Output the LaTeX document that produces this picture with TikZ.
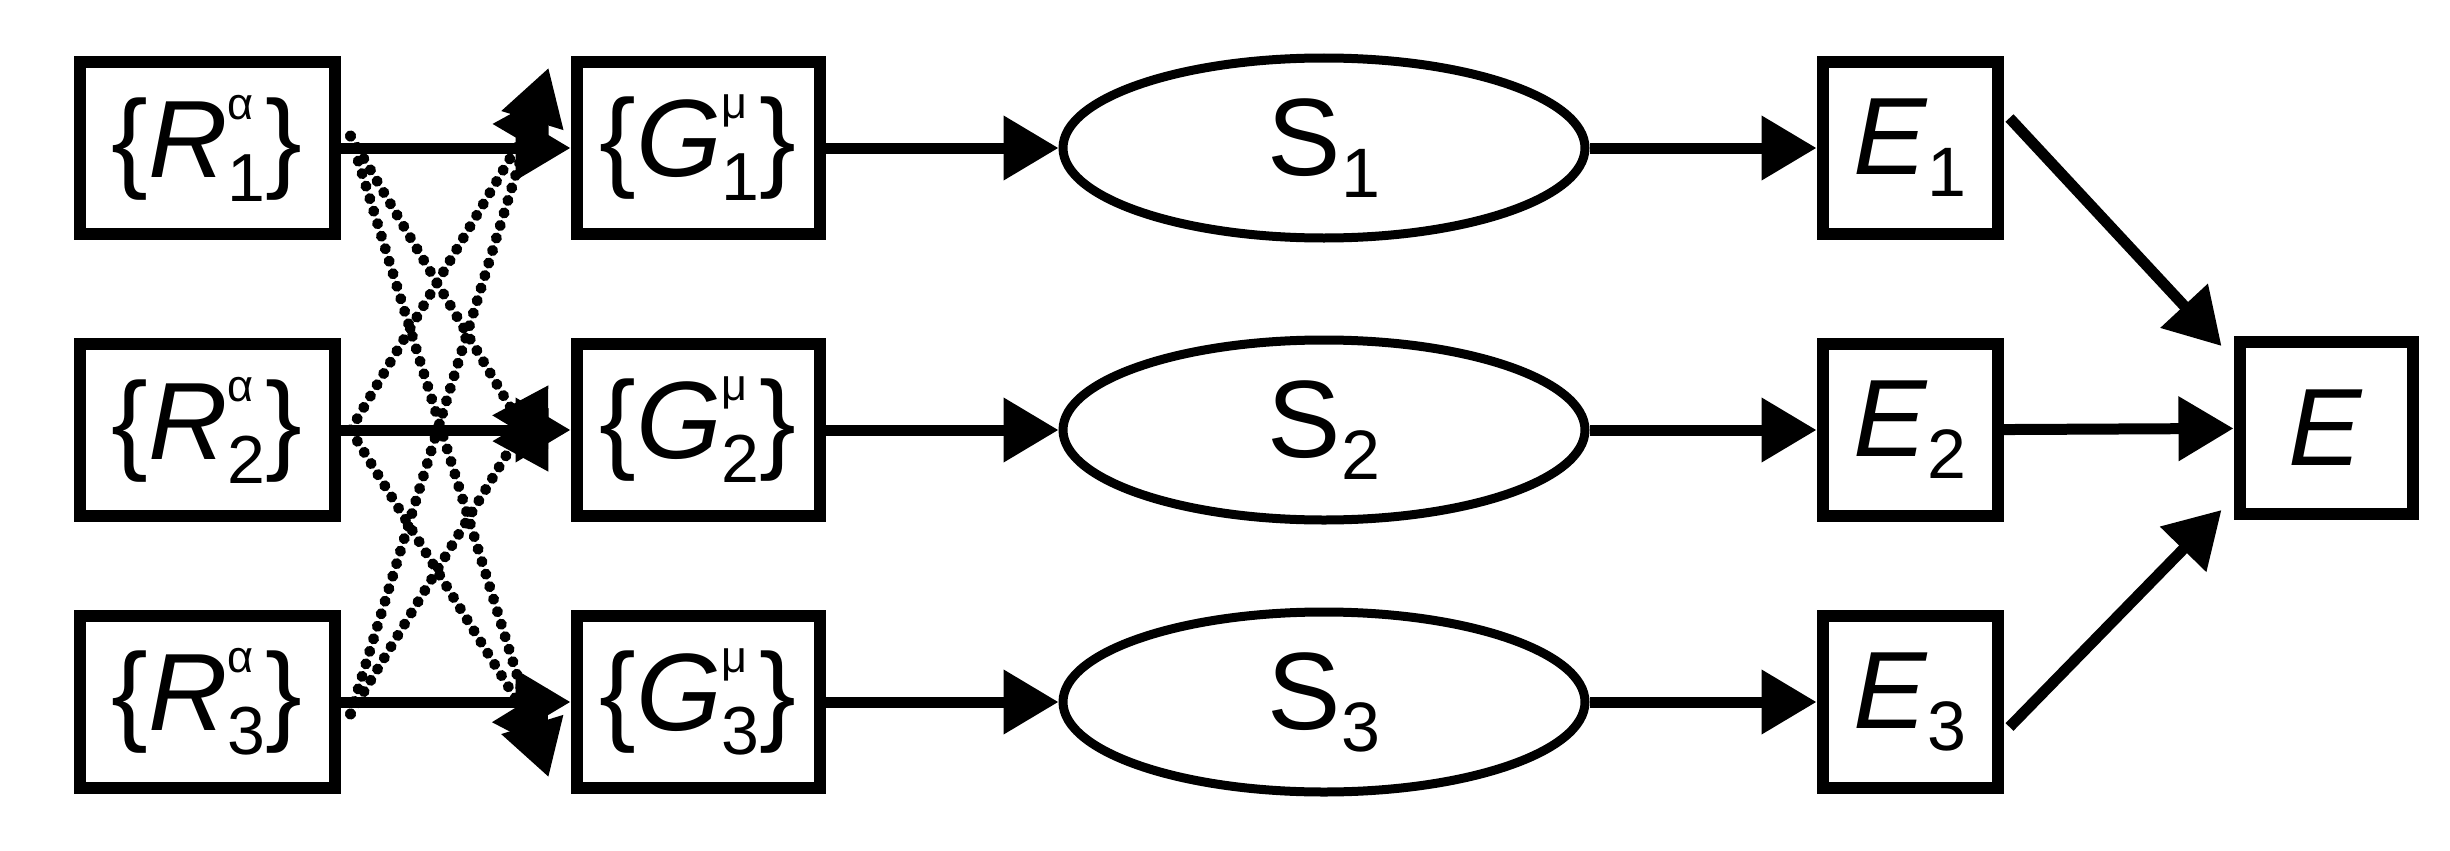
\documentclass[tikz,border=0pt]{standalone}
\usepackage{fontspec}
\setmainfont{Liberation Sans}
\usetikzlibrary{arrows.meta,shapes.geometric}
\newcommand{\lab}[3]{\{\textit{#1}\makebox[0pt][l]{\raisebox{58pt}{\fontsize{45}{45}\selectfont #2}}\raisebox{-24pt}{\fontsize{68}{68}\selectfont #3}\}}
\newcommand{\elab}[2]{\textit{#1}\raisebox{-22pt}{\fontsize{70}{70}\selectfont #2}}
\begin{document}
\begin{tikzpicture}[x=1pt,y=-1pt,
  bx/.style={draw,line width=12pt,minimum height=172pt,inner sep=0pt,font=\fontsize{110}{120}\selectfont},
  el/.style={draw,ellipse,line width=9pt,minimum width=522pt,minimum height=180pt,font=\fontsize{110}{120}\selectfont},
  arr/.style={line width=11pt,-{Triangle[length=55pt,width=62pt]}},
  dar/.style={arr,line cap=round,dash pattern=on 0.1pt off 13pt}]
\useasboundingbox (0,0) rectangle (2450,851);
\foreach \i/\y in {1/148,2/430,3/702}{
  \node[bx,minimum width=255pt] (R\i) at (207,\y) {\lab{R}{α}{\i}};
  \node[bx,minimum width=243pt] (G\i) at (698,\y) {\lab{G}{μ}{\i}};
  \node[el] (S\i) at (1324,\y) {S\raisebox{-22pt}{\fontsize{70}{70}\selectfont \i}};
  \node[bx,minimum width=175pt] (E\i) at (1910,\y) {\elab{E}{\i}};
  \draw[arr] (R\i) -- (G\i);
  \draw[arr] (G\i) -- (S\i);
  \draw[arr] (S\i) -- (E\i);
}
\node[bx,minimum width=173pt] (E) at (2326,428) {\textit{E}};
\draw[arr] ([xshift=6pt,yshift=30pt]E1.east) -- ([xshift=-12pt,yshift=-10pt]E.north west);
\draw[arr] (E2) -- (E);
\draw[arr] ([xshift=6pt,yshift=-25pt]E3.east) -- ([xshift=-12pt,yshift=10pt]E.south west);
\coordinate (a1) at ([xshift=10pt,yshift=12pt]R1.east);
\coordinate (a2) at ([xshift=10pt]R2.east);
\coordinate (a3) at ([xshift=10pt,yshift=-12pt]R3.east);
\draw[dar] (a1) -- ([xshift=-22pt,yshift=-42pt]G2.west);
\draw[dar] (a1) -- ([xshift=-22pt,yshift=-75pt]G3.west);
\draw[dar] (a2) -- ([xshift=-22pt,yshift=55pt]G1.west);
\draw[dar] (a2) -- ([xshift=-22pt,yshift=-50pt]G3.west);
\draw[dar] (a3) -- ([xshift=-22pt,yshift=80pt]G1.west);
\draw[dar] (a3) -- ([xshift=-22pt,yshift=45pt]G2.west);
\end{tikzpicture}
\end{document}
